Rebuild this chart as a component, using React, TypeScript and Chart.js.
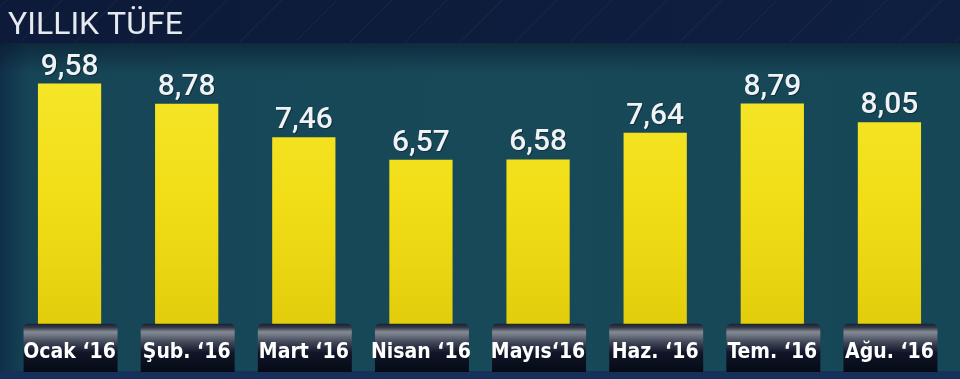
import React, { useEffect, useRef } from "react";
import { Chart, registerables } from "chart.js";

Chart.register(...registerables);

const titleText = "YILLIK TÜFE";
const categories = ["Ocak ‘16", "Şub. ‘16", "Mart ‘16", "Nisan ‘16", "Mayıs‘16", "Haz. ‘16", "Tem. ‘16", "Ağu. ‘16"];
const values = [9.58, 8.78, 7.46, 6.57, 6.58, 7.64, 8.79, 8.05];
const yMin = 0;
const yMax = 10;

const formatValue = (v: number) => v.toFixed(2).replace(".", ",");

const bgPlugin = {
  id: "tvBackground",
  beforeDraw(chart: any) {
    const { ctx, width, height } = chart;
    ctx.save();
    const nav = ctx.createLinearGradient(0, 0, width, 0);
    nav.addColorStop(0, "#0d1a3a");
    nav.addColorStop(1, "#0f1f3f");
    ctx.fillStyle = nav;
    ctx.fillRect(0, 0, width, height);
    ctx.strokeStyle = "rgba(120,150,190,0.10)";
    ctx.lineWidth = 1;
    for (let i = -200; i < width + 200; i += 55) {
      ctx.beginPath();
      ctx.moveTo(i, 42);
      ctx.lineTo(i + 42, 0);
      ctx.stroke();
    }
    const panelTop = 43;
    const panelBottom = 371;
    const tg = ctx.createLinearGradient(0, 0, width, 0);
    tg.addColorStop(0, "#0f2f4a");
    tg.addColorStop(0.03, "#164556");
    tg.addColorStop(0.5, "#174959");
    tg.addColorStop(1, "#164757");
    ctx.fillStyle = tg;
    ctx.fillRect(0, panelTop, width, panelBottom - panelTop);
    const vg = ctx.createLinearGradient(0, panelTop, 0, panelTop + 30);
    vg.addColorStop(0, "rgba(8,20,40,0.55)");
    vg.addColorStop(1, "rgba(8,20,40,0)");
    ctx.fillStyle = vg;
    ctx.fillRect(0, panelTop, width, 30);
    ctx.fillStyle = "#15305a";
    ctx.fillRect(0, panelBottom, width, height - panelBottom);
    ctx.fillStyle = "#e6eaee";
    ctx.font = "400 32px Roboto, sans-serif";
    ctx.textBaseline = "alphabetic";
    ctx.textAlign = "left";
    ctx.fillText(titleText, 8, 34);
    ctx.restore();
  },
};

const overlayPlugin = {
  id: "tabsAndLabels",
  afterDatasetsDraw(chart: any) {
    const { ctx, chartArea } = chart;
    const meta = chart.getDatasetMeta(0);
    ctx.save();
    meta.data.forEach((bar: any) => {
      const w = 94;
      const x0 = bar.x - w / 2 + 1;
      const top = chartArea.bottom - 2;
      const bottom = 372;
      const r = 5;
      ctx.beginPath();
      ctx.moveTo(x0, bottom);
      ctx.lineTo(x0, top + r);
      ctx.quadraticCurveTo(x0, top, x0 + r, top);
      ctx.lineTo(x0 + w - r, top);
      ctx.quadraticCurveTo(x0 + w, top, x0 + w, top + r);
      ctx.lineTo(x0 + w, bottom);
      ctx.closePath();
      const g = ctx.createLinearGradient(0, top, 0, bottom);
      g.addColorStop(0, "#1a2030");
      g.addColorStop(0.08, "#363c48");
      g.addColorStop(0.17, "#858b96");
      g.addColorStop(0.38, "#424858");
      g.addColorStop(0.6, "#101628");
      g.addColorStop(1, "#060a16");
      ctx.fillStyle = g;
      ctx.fill();
    });
    meta.data.forEach((bar: any, i: number) => {
      ctx.font = "500 30px Roboto, sans-serif";
      ctx.textAlign = "center";
      ctx.textBaseline = "alphabetic";
      ctx.fillStyle = "rgba(0,0,0,0.35)";
      ctx.fillText(formatValue(values[i]), bar.x + 1, bar.y - 8);
      ctx.fillStyle = "#f0f3f5";
      ctx.fillText(formatValue(values[i]), bar.x, bar.y - 9);
    });
    ctx.restore();
  },
};

export default function App() {
  const ref = useRef<HTMLCanvasElement>(null);
  useEffect(() => {
    document.body.style.margin = "0";
    const canvas = ref.current;
    if (!canvas) return;
    const chart = new Chart(canvas, {
      type: "bar",
      data: {
        labels: categories,
        datasets: [
          {
            data: values,
            backgroundColor: (c: any) => {
              const ch = c.chart;
              const area = ch.chartArea;
              if (!area) return "#f0dc14";
              const g = ch.ctx.createLinearGradient(0, area.top, 0, area.bottom);
              g.addColorStop(0, "#f6e62a");
              g.addColorStop(0.5, "#f1de17");
              g.addColorStop(1, "#e2cd0c");
              return g;
            },
            borderWidth: 0,
            barPercentage: 0.54,
            categoryPercentage: 1,
          },
        ],
      },
      options: {
        responsive: false,
        animation: false,
        layout: { padding: { left: 11, right: 12, top: 73, bottom: 0 } },
        plugins: { legend: { display: false }, tooltip: { enabled: false }, title: { display: false } },
        scales: {
          x: {
            grid: { display: false, drawTicks: false },
            border: { display: false },
            ticks: {
              z: 1,
              color: "#ffffff",
              padding: 14,
              maxRotation: 0,
              autoSkip: false,
              font: { family: '"DejaVu Sans Condensed", sans-serif', size: 21, weight: "bold" },
            },
          },
          y: { display: false, min: yMin, max: yMax },
        },
      },
      plugins: [bgPlugin, overlayPlugin],
    });
    return () => chart.destroy();
  }, []);
  return (
    <div style={{ width: 960, height: 379 }}>
      <canvas ref={ref} width={960} height={379} />
    </div>
  );
}
